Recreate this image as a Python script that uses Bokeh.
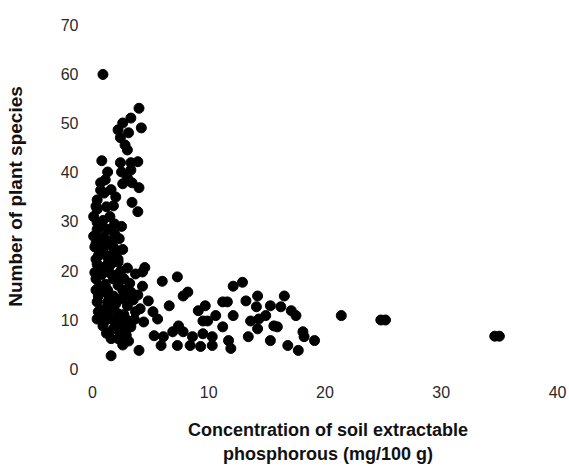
from bokeh.plotting import figure
from bokeh.models import ColumnDataSource, FixedTicker, Range1d
from bokeh.embed import file_html
from bokeh.resources import INLINE

# Soil extractable phosphorous (mg/100 g)
phosphorous = [
    0.9, 4.0, 3.3, 2.6, 4.2, 2.2, 3.1, 2.4, 2.8, 3.0, 0.8, 2.4, 3.3, 3.9, 1.3, 2.5, 3.3,
    0.7, 1.1, 2.6, 3.0, 3.4, 4.0, 2.0, 3.4, 3.9, 0.4, 0.3, 0.4, 1.5, 0.1, 2.5, 0.4, 0.4,
    1.3, 0.1, 0.3, 1.6, 2.6, 0.7, 0.3, 1.4, 2.2, 4.5, 0.4, 1.6, 2.2, 4.3, 3.7, 0.3, 1.8,
    2.7, 4.3, 0.7, 1.8, 3.3, 0.4, 1.3, 3.0, 4.8, 3.7, 5.2, 0.4, 1.3, 2.2, 0.9, 1.8, 2.4,
    4.4, 5.3, 1.6, 2.2, 1.6, 4.0,
    0.6, 1.0, 1.9, 0.9, 1.2, 1.0, 1.8, 1.2, 2.0, 0.9, 1.5, 2.4, 3.0, 1.1, 2.2, 3.2, 2.6,
    1.3, 2.4, 3.5, 0.9, 1.8, 2.7, 3.0, 1.7, 2.3, 1.2, 3.3, 2.9, 0.5, 0.6, 0.2, 0.2, 1.9,
    0.7, 2.0, 3.9, 3.6, 4.1, 2.6, 3.1,
    0.5, 1.0, 1.5, 2.8, 1.4, 0.3, 2.0, 0.8, 1.2, 0.5, 1.7, 0.3, 1.1, 0.6, 2.3, 1.8, 1.6,
    2.0, 2.9, 1.0,
    6.0, 7.3, 7.8, 8.2, 6.6, 5.6, 9.1, 9.7, 11.2, 11.6, 12.1, 12.9, 13.2, 9.5, 9.9, 10.6,
    12.1, 11.2, 6.1, 6.9, 7.4, 7.8, 8.6, 9.5, 10.3, 5.9, 7.3, 8.4, 9.3, 10.3, 11.7, 11.9,
    13.4,
    14.2, 14.1, 15.3, 16.5, 16.2, 17.1, 17.5, 13.6, 14.3, 14.9, 14.2, 15.6, 15.9, 15.3,
    16.8, 17.7, 18.1, 18.2, 19.1, 21.4, 24.8, 25.2, 34.6, 35.0,
]

# Number of plant species
species = [
    60.0, 53.1, 51.1, 50.1, 49.1, 48.7, 48.1, 47.1, 45.6, 44.6, 42.4, 42.0, 42.0, 42.2,
    40.1, 40.1, 40.5, 37.9, 38.5, 37.7, 38.9, 37.9, 36.9, 35.0, 33.9, 32.0, 34.4, 33.1,
    32.5, 31.0, 31.0, 29.0, 29.8, 28.4, 28.4, 27.0, 27.0, 26.0, 24.3, 23.9, 22.3, 21.9,
    22.3, 20.6, 21.3, 21.3, 21.7, 19.7, 19.3, 18.3, 18.3, 18.3, 16.8, 15.6, 14.8, 15.6,
    13.6, 13.6, 12.8, 13.8, 11.6, 11.6, 10.1, 10.5, 11.2, 8.7, 8.1, 7.5, 9.5, 6.7, 6.1,
    6.1, 2.6, 3.7,
    25.5, 26.8, 27.5, 30.2, 33.0, 35.8, 24.8, 23.0, 23.2, 20.0, 19.5, 19.8, 20.5, 17.2,
    17.0, 17.4, 16.0, 16.0, 14.2, 14.0, 12.0, 12.4, 11.0, 9.8, 10.0, 9.2, 7.2, 8.5, 6.8,
    11.6, 16.8, 19.6, 24.8, 29.5, 36.4, 13.2, 15.0, 10.0, 12.2, 4.8, 5.6,
    14.8, 11.2, 12.0, 14.8, 15.0, 16.0, 19.0, 19.2, 21.0, 23.0, 23.3, 25.5, 25.0, 28.7,
    26.5, 33.2, 36.5, 9.0, 8.0, 9.5,
    17.8, 18.7, 14.8, 15.6, 12.8, 10.1, 11.8, 12.8, 13.6, 13.6, 16.8, 17.6, 13.8, 9.7,
    9.7, 10.8, 10.8, 8.5, 6.5, 7.5, 8.7, 7.5, 6.5, 7.1, 6.5, 4.7, 4.7, 4.7, 4.5, 4.7,
    5.7, 4.1, 6.5,
    14.8, 12.6, 12.8, 14.8, 12.6, 11.8, 10.8, 9.7, 10.1, 10.8, 8.1, 8.7, 8.5, 5.7, 4.7,
    3.7, 7.5, 6.5, 5.7, 10.8, 9.9, 9.9, 6.6, 6.6,
]

x_ticks = [0, 10, 20, 30, 40]
y_ticks = [0, 10, 20, 30, 40, 50, 60, 70]

x_title = "Concentration of soil extractable\nphosphorous (mg/100 g)"
y_title = "Number of plant species"

src = ColumnDataSource(data=dict(x=phosphorous, y=species))

p = figure(
    width=569, height=466,
    output_backend="svg", toolbar_location=None,
    x_range=Range1d(-0.516, 41.03), y_range=Range1d(-1.83, 72.03),
    min_border_left=86, min_border_right=0, min_border_top=15, min_border_bottom=87,
)

p.scatter("x", "y", source=src, size=10, color="black", line_color="black")

p.grid.visible = False
p.outline_line_color = None
p.background_fill_color = "white"
p.border_fill_color = "white"

for ax in (p.xaxis[0], p.yaxis[0]):
    ax.axis_line_color = None
    ax.major_tick_line_color = None
    ax.minor_tick_line_color = None
    ax.major_tick_out = 0
    ax.major_tick_in = 0
    ax.major_label_text_font = "Liberation Sans"
    ax.major_label_text_font_size = "16px"
    ax.major_label_text_color = "#2a2a2a"
    ax.axis_label_text_font = "Liberation Sans"
    ax.axis_label_text_font_style = "bold"
    ax.axis_label_text_color = "#111111"

p.xaxis[0].axis_label_text_font_size = "18px"
p.yaxis[0].axis_label_text_font_size = "19px"
p.xaxis[0].ticker = FixedTicker(ticks=x_ticks)
p.yaxis[0].ticker = FixedTicker(ticks=y_ticks)
p.xaxis[0].major_label_standoff = 8
p.yaxis[0].major_label_standoff = 8
p.xaxis[0].axis_label = x_title
p.yaxis[0].axis_label = y_title
p.xaxis[0].axis_label_standoff = 19
p.yaxis[0].axis_label_standoff = 32

open("out.html", "w").write(file_html(p, INLINE))
